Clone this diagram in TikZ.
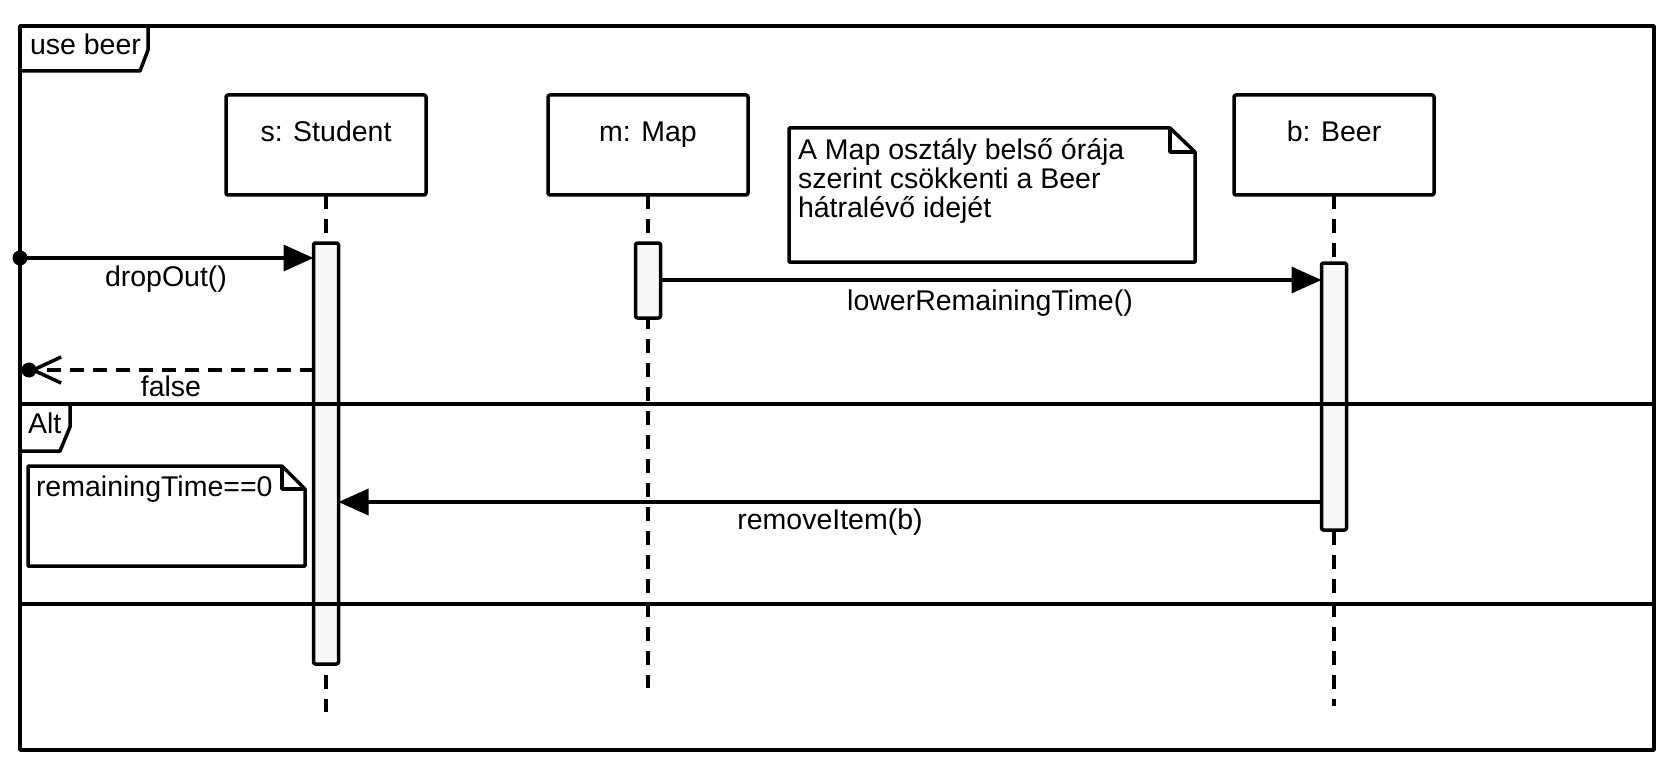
\documentclass[tikz,border=0pt]{standalone}
\usepackage{fontspec}
\setmainfont{Liberation Sans}
\usetikzlibrary{arrows.meta,calc}
\definecolor{actfill}{HTML}{F8F8F8}
\begin{document}
\begin{tikzpicture}[x=1pt,y=-1pt,line width=3.5pt,line join=round,
  every node/.style={font=\fontsize{28.5}{29}\selectfont,inner sep=0pt,outer sep=0pt},
  head/.style={draw,rounded corners=2pt,minimum width=200pt,minimum height=100pt},
  act/.style={draw,fill=actfill,rounded corners=2pt,minimum width=25pt,anchor=north},
  life/.style={dash pattern=on 14pt off 10pt},
  msg/.style={-{Triangle[length=30pt,width=26pt]}},
  ret/.style={dash pattern=on 14pt off 9pt,-{Straight Barb[length=28pt,width=26pt]}},
  lbl/.style={anchor=base},
  txt/.style={anchor=base west}]
\useasboundingbox (0,0) rectangle (1672,770);
% frame
\node[draw,minimum width=1634pt,minimum height=724pt,anchor=north west] (frame) at (20,26) {};
\node[txt] (tabt) at (30,55) {use beer};
\draw (frame.north west |- 0,71) -- (140,71) -- (148,50) -- (148,26);
% lifeline heads
\node[head] (S) at (326,145) {};
\node[lbl] (St) at (326,142) {s: Student};
\node[head] (M) at (648,145) {};
\node[lbl] (Mt) at (648,142) {m: Map};
\node[head] (B) at (1334,145) {};
\node[lbl] (Bt) at (1334,142) {b: Beer};
% lifeline ends
\coordinate (Send) at (326,712);
\coordinate (Mend) at (648,688);
\coordinate (Bend) at (1334,706);
\draw[life] (S.south) -- (Send);
\draw[life] (M.south) -- (Mend);
\draw[life] (B.south) -- (Bend);
% activations
\node[act,minimum height=421pt] (Sa) at (326,243) {};
\node[act,minimum height=75pt] (Ma) at (648,243) {};
\node[act,minimum height=267pt] (Ba) at (1334,263) {};
% note 1
\coordinate (n1) at (789,128);
\coordinate (n1b) at (1195,262);
\draw (n1) -- (1170,128) -- (1195,152) -- (n1b) -- (n1 |- n1b) -- cycle;
\draw (1170,128) -- (1170,152) -- (1195,152);
\node[txt] (n1t1) at (798,160) {A Map osztály belső órája};
\node[txt] (n1t2) at (798,189) {szerint csökkenti a Beer};
\node[txt] (n1t3) at (798,218) {hátralévő idejét};
% messages
\coordinate (d0) at (20,258);
\draw[msg] (d0) -- (Sa.west |- d0);
\fill (d0) circle (7.5pt);
\node[lbl] (dl) at (166,286) {dropOut()};
\coordinate (r0) at (29,370);
\draw[ret] (Sa.west |- r0) -- (r0);
\fill (r0) circle (7.5pt);
\node[lbl] (rl) at (171,396) {false};
\coordinate (l0) at (648,280);
\draw[msg] (Ma.east |- l0) -- (Ba.west |- l0);
\node[lbl] (ll) at (990,310) {lowerRemainingTime()};
\coordinate (m0) at (1334,502);
\draw[msg] (Ba.west |- m0) -- (Sa.east |- m0);
\node[lbl] (ml) at (830,529) {removeItem(b)};
% alt fragment
\draw (frame.west |- 0,404) -- (frame.east |- 0,404);
\draw (frame.west |- 0,451) -- (60,451) -- (70,427) -- (70,404);
\node[txt] (altt) at (28,433) {Alt};
\draw (frame.west |- 0,604) -- (frame.east |- 0,604);
% note 2
\coordinate (n2) at (28,466);
\coordinate (n2b) at (305,566);
\draw (n2) -- (282,466) -- (305,489) -- (n2b) -- (n2 |- n2b) -- cycle;
\draw (282,466) -- (282,489) -- (305,489);
\node[txt] (n2t) at (36,496) {remainingTime==0};
\end{tikzpicture}
\end{document}
